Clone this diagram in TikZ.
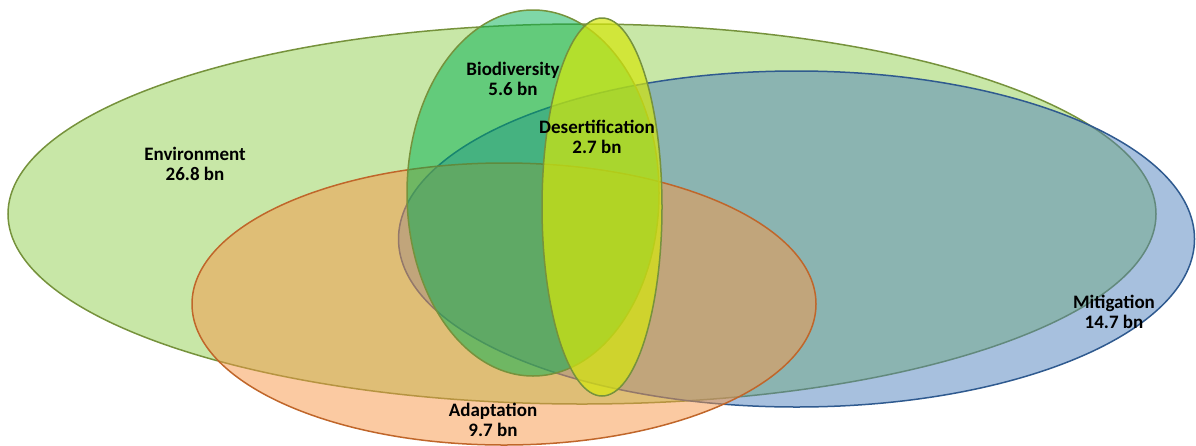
\documentclass[tikz,border=0pt]{standalone}
\usepackage{fontspec}
\setmainfont{Carlito}
\definecolor{envfill}{HTML}{92D050}
\definecolor{envline}{HTML}{76923C}
\definecolor{mitfill}{HTML}{4F81BD}
\definecolor{mitline}{HTML}{2F5A8F}
\definecolor{adafill}{HTML}{F79646}
\definecolor{adaline}{HTML}{C0662A}
\definecolor{biofill}{HTML}{00B050}
\definecolor{desfill}{HTML}{D5E70C}
\tikzset{
  setshape/.style={line width=1.5pt, fill opacity=#1, draw opacity=1},
  setlabel/.style={align=center, font=\bfseries\fontsize{19}{20.5}\selectfont, text=black, inner sep=0pt}
}
\begin{document}
\begin{tikzpicture}[x=1pt,y=-1pt]
\useasboundingbox (0,0) rectangle (1196,445);
% Environment
\draw[setshape=0.5, draw=envline, fill=envfill] (582,214) ellipse [x radius=574pt, y radius=190pt];
% Mitigation
\draw[setshape=0.5, draw=mitline, fill=mitfill] (796.5,239) ellipse [x radius=398pt, y radius=168pt];
% Adaptation
\draw[setshape=0.5, draw=adaline, fill=adafill] (504,304) ellipse [x radius=312pt, y radius=141pt];
% Biodiversity
\draw[setshape=0.5, draw=envline, fill=biofill] (533,193) ellipse [x radius=126pt, y radius=183pt];
% Desertification
\draw[setshape=0.7, draw=envline, fill=desfill] (602,207) ellipse [x radius=60pt, y radius=189pt];
% Labels
\node[setlabel] (env) at (195,164) {Environment\\26.8 bn};
\node[setlabel] (bio) at (513,79) {Biodiversity\\5.6 bn};
\node[setlabel] (des) at (597,137) {Desertification\\2.7 bn};
\node[setlabel] (mit) at (1114,312) {Mitigation\\14.7 bn};
\node[setlabel] (ada) at (493,420) {Adaptation\\9.7 bn};
\end{tikzpicture}
\end{document}
